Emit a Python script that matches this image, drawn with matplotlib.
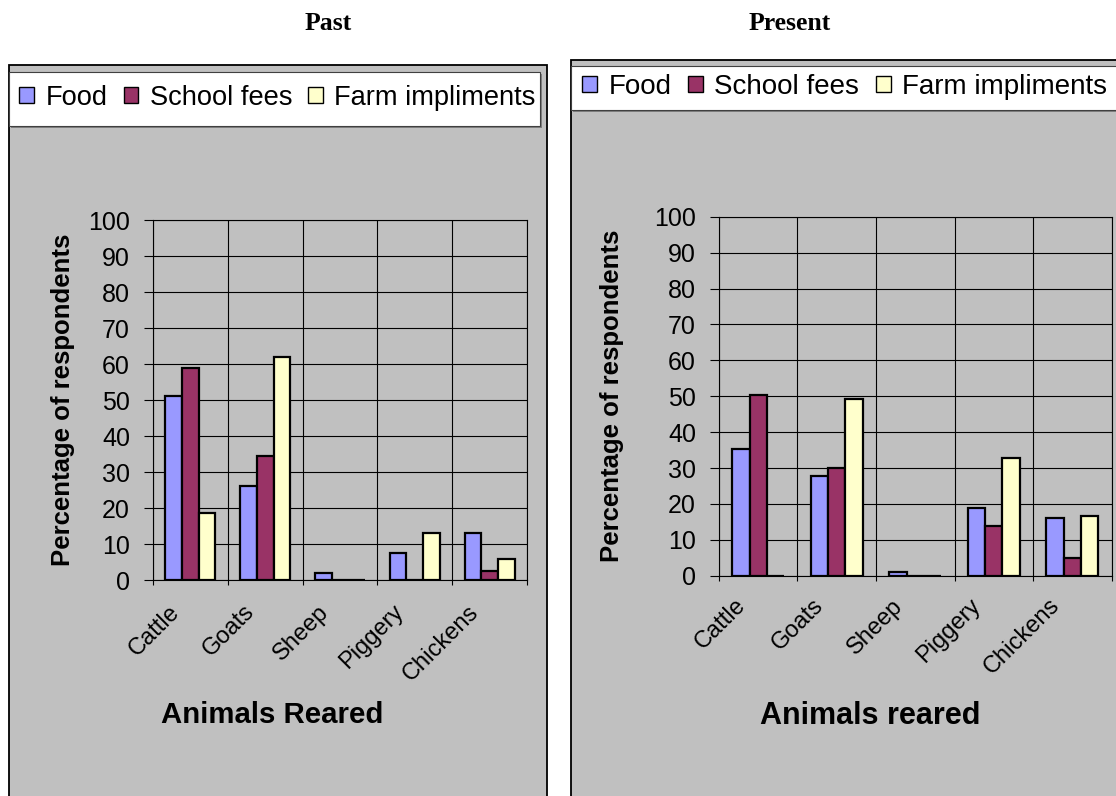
import matplotlib
matplotlib.use("Agg")
import matplotlib.pyplot as plt
from matplotlib.patches import Rectangle, Patch
from matplotlib.transforms import ScaledTranslation
import numpy as np

# ---- data ----
animals = ["Cattle", "Goats", "Sheep", "Piggery", "Chickens"]
series_names = ["Food", "School fees", "Farm impliments"]

past_food = [51, 26, 2, 7.6, 13.1]
past_school_fees = [59, 34.4, 0, 0, 2.6]
past_farm_impliments = [18.7, 62, 0, 13.1, 5.9]

present_food = [35.4, 27.7, 1.1, 18.9, 16.1]
present_school_fees = [50.4, 30, 0, 13.9, 5]
present_farm_impliments = [0, 49.3, 0, 32.8, 16.7]

y_ticks = list(range(0, 101, 10))

# ---- style ----
plt.rcParams['font.family'] = ['Liberation Sans', 'DejaVu Sans']
COLORS = ["#9999FF", "#993366", "#FFFFCC"]
GRAY = "#C0C0C0"
W, H = 1116, 796

fig = plt.figure(figsize=(W / 100, H / 100), dpi=100)
fig.patch.set_facecolor("white")


def fx(x):
    return x / W


def fy(y):
    return 1 - y / H


def box(x0, y0, x1, y1, **kw):
    r = Rectangle((fx(x0), fy(y1)), fx(x1) - fx(x0), fy(y0) - fy(y1),
                  transform=fig.transFigure, **kw)
    fig.add_artist(r)


def panel(frame, legend_box, legend_anchor, legend_size, plot, ylabel_x,
          xlabel_xy, xlabel, xlabel_size, tick_offset, title_xy, title,
          values):
    # chart frame and legend strip
    box(*frame, facecolor=GRAY, edgecolor="black", linewidth=1.3, zorder=0)
    lx0, ly0, lx1, ly1 = legend_box
    box(lx0 + 2, ly0 + 2, lx1 + 2, ly1 + 2, facecolor="#808080",
        edgecolor="none", zorder=0.5)
    box(*legend_box, facecolor="white", edgecolor="#404040",
        linewidth=0.8, zorder=0.6)

    handles = [Patch(facecolor=c, edgecolor="black", linewidth=1.0)
               for c in COLORS]
    fig.legend(handles, series_names, loc="center left",
               bbox_to_anchor=(fx(legend_anchor[0]), fy(legend_anchor[1])),
               ncol=3, frameon=False, fontsize=legend_size,
               handlelength=0.53, handleheight=0.53, handletextpad=0.42,
               columnspacing=0.6, borderpad=0, borderaxespad=0)

    px0, py0, px1, py1 = plot
    ax = fig.add_axes([fx(px0), fy(py1), fx(px1) - fx(px0), fy(py0) - fy(py1)])
    ax.set_facecolor(GRAY)
    x = np.arange(len(animals))
    w = 1 / 4.5
    for k, vals in enumerate(values):
        ax.bar(x + (k - 1) * w, vals, w, color=COLORS[k], edgecolor="black",
               linewidth=1.6, zorder=3)
    ax.set_xlim(-0.5, len(animals) - 0.5)
    ax.set_ylim(0, 100)
    ax.set_yticks(y_ticks)
    ax.set_yticklabels([str(t) for t in y_ticks], fontsize=18)
    ax.set_xticks([])
    ax.set_xticks(np.arange(-0.5, len(animals), 1), minor=True)
    ax.grid(True, which="minor", axis="x", color="black", linewidth=0.8)
    ax.grid(True, which="major", axis="y", color="black", linewidth=0.8)
    ax.set_axisbelow(True)
    ax.tick_params(axis="y", direction="out", length=6.5, width=0.8, pad=10)
    ax.tick_params(axis="x", which="minor", direction="out", length=3.5,
                   width=0.8)
    for s in ax.spines.values():
        s.set_color("black")
        s.set_linewidth(0.8)

    off = ScaledTranslation(tick_offset[0], tick_offset[1], fig.dpi_scale_trans)
    for i, name in enumerate(animals):
        ax.text(i, 0, name, transform=ax.get_xaxis_transform() + off,
                rotation=45, rotation_mode="anchor", ha="right", va="top",
                fontsize=17)

    fig.text(fx(ylabel_x), fy((py0 + py1) / 2), "Percentage of respondents",
             rotation=90, ha="center", va="center", fontsize=18.5,
             fontweight="bold")
    fig.text(fx(xlabel_xy[0]), fy(xlabel_xy[1]), xlabel, ha="center",
             va="center", fontsize=xlabel_size, fontweight="bold")
    fig.text(fx(title_xy[0]), fy(title_xy[1]), title, ha="center",
             va="center", fontsize=18.5, fontweight="bold",
             family=["Liberation Serif", "DejaVu Serif"])
    return ax


panel(frame=(8.5, 65, 547, 830), legend_box=(8.5, 72, 540, 126),
      legend_anchor=(19.5, 98), legend_size=19.6, plot=(153, 220, 527, 580),
      ylabel_x=63, xlabel_xy=(272.5, 715), xlabel="Animals Reared",
      xlabel_size=21.2, tick_offset=(-0.22, -0.21), title_xy=(328, 23),
      title="Past",
      values=[past_food, past_school_fees, past_farm_impliments])

panel(frame=(571, 59.5, 1140, 830), legend_box=(571, 66, 1140, 110),
      legend_anchor=(582, 87), legend_size=20.0,
      plot=(719, 216.7, 1111.5, 575.7), ylabel_x=612,
      xlabel_xy=(870.5, 716), xlabel="Animals reared", xlabel_size=22,
      tick_offset=(-0.24, -0.19), title_xy=(790, 23), title="Present",
      values=[present_food, present_school_fees, present_farm_impliments])

fig.savefig("out.png", dpi=100)
